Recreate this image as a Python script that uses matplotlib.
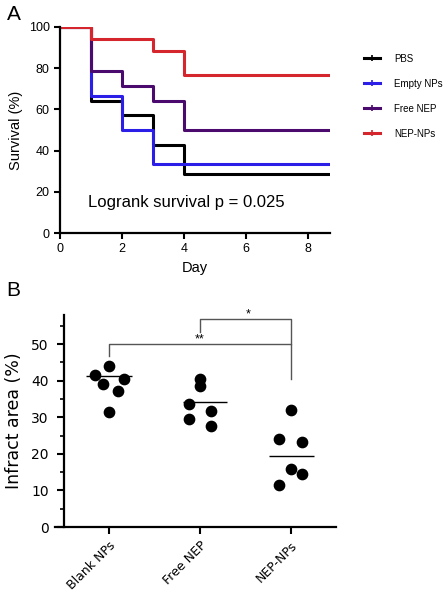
import matplotlib
matplotlib.use("Agg")
import matplotlib.pyplot as plt

# --- Panel A: survival curves (step data) ---
days = [0, 1, 2, 3, 4, 8.7]
groups = ["PBS", "Empty NPs", "Free NEP", "NEP-NPs"]
surv_pbs = [100, 64.3, 57.1, 42.9, 28.6, 28.6]
surv_empty = [100, 66.7, 50.0, 33.3, 33.3, 33.3]
surv_free = [100, 78.6, 71.4, 64.3, 50.0, 50.0]
surv_nep = [100, 94.1, 94.1, 88.2, 76.5, 76.5]
colors = ["#000000", "#2b1ee6", "#4a0a6e", "#d4262c"]

# --- Panel B: infarct area ---
categories = ["Blank NPs", "Free NEP", "NEP-NPs"]
blank_vals = [41.5, 44.0, 40.5, 39.0, 37.3, 31.5]
free_vals = [40.4, 38.6, 33.6, 31.7, 29.6, 27.6]
nepnp_vals = [32.1, 24.0, 23.3, 15.8, 14.5, 11.6]
jitter = [
    [-0.15, 0.0, 0.17, -0.07, 0.1, 0.0],
    [0.0, 0.0, -0.12, 0.12, -0.12, 0.12],
    [0.0, -0.13, 0.12, 0.0, 0.12, -0.13],
]
center_lines = [41.2, 34.2, 19.4]

fig = plt.figure(figsize=(4.44, 5.99), dpi=100)
plt.rcParams['font.family'] = ['Liberation Sans', 'DejaVu Sans']

# ---------------- A ----------------
ax1 = fig.add_axes([0.1351, 0.611, 0.6081, 0.344])
series = [surv_pbs, surv_empty, surv_free, surv_nep]
for name, s, c in zip(groups, series, colors):
    ax1.step(days, s, where="post", color=c, lw=2.2, label=name)
ax1.set_xlim(0, 8.7)
ax1.set_ylim(0, 100)
ax1.set_xticks([0, 2, 4, 6, 8])
ax1.set_yticks([0, 20, 40, 60, 80, 100])
for sp in ["top", "right"]:
    ax1.spines[sp].set_visible(False)
for sp in ["left", "bottom"]:
    ax1.spines[sp].set_linewidth(1.6)
ax1.tick_params(width=1.5, length=4, labelsize=9)
ax1.set_xlabel("Day", fontsize=10.5)
ax1.set_ylabel("Survival (%)", fontsize=10.5)
ax1.text(0.9, 14.6, "Logrank survival p = 0.025", fontsize=12, va="center")

handles = []
for c in colors:
    h, = ax1.plot([], [], color=c, lw=2.2, marker="|", markersize=4,
                  markeredgewidth=1.2)
    handles.append(h)
fig.legend(handles, groups, loc="upper left", bbox_to_anchor=(0.8, 0.925),
           frameon=False, fontsize=7, handlelength=1.6, handletextpad=1.5,
           labelspacing=1.55)

fig.text(0.015, 0.975, "A", fontsize=15, va="center")
fig.text(0.015, 0.515, "B", fontsize=15, va="center")

# ---------------- B ----------------
ax2 = fig.add_axes([0.1239, 0.1202, 0.6329, 0.354])
allvals = [blank_vals, free_vals, nepnp_vals]
for i, (vals, jit) in enumerate(zip(allvals, jitter)):
    ax2.scatter([i + j for j in jit], vals, s=55, color="black", zorder=3)
ax2.hlines(center_lines[0], -0.25, 0.25, color="black", lw=1)
ax2.hlines(center_lines[1], 0.81, 1.3, color="black", lw=1)
ax2.hlines(center_lines[2], 1.76, 2.25, color="black", lw=1)

gray = "#555555"
ax2.plot([0, 0, 2, 2], [46.7, 50, 50, 40.4], color=gray, lw=1)
ax2.plot([1, 1, 2, 2], [53.3, 56.8, 56.8, 50], color=gray, lw=1)
ax2.text(1.0, 49.6, "**", ha="center", va="bottom", fontsize=9)
ax2.text(1.53, 56.5, "*", ha="center", va="bottom", fontsize=9)

ax2.set_xlim(-0.593, 2.495)
ax2.set_ylim(0, 58)
ax2.spines["left"].set_position(("data", -0.495))
ax2.spines["left"].set_bounds(0, 58)
for sp in ["top", "right"]:
    ax2.spines[sp].set_visible(False)
for sp in ["left", "bottom"]:
    ax2.spines[sp].set_linewidth(1.6)
ax2.set_yticks([0, 10, 20, 30, 40, 50])
ax2.set_yticks(range(5, 60, 5), minor=True)
ax2.tick_params(axis="y", which="major", width=1.5, length=5, labelsize=10, pad=6)
ax2.tick_params(axis="y", which="minor", width=1.2, length=3)
ax2.set_xticks(range(len(categories)))
ax2.set_xticklabels(categories, rotation=45, ha="right", rotation_mode="anchor",
                    fontsize=9, family="DejaVu Sans")
ax2.tick_params(axis="x", width=1.5, length=5)
for lab in ax2.get_yticklabels():
    lab.set_family("DejaVu Sans")
ax2.set_ylabel("Infract area (%)", fontsize=12.5, family="DejaVu Sans", labelpad=6)

fig.savefig("out.png", dpi=100)
